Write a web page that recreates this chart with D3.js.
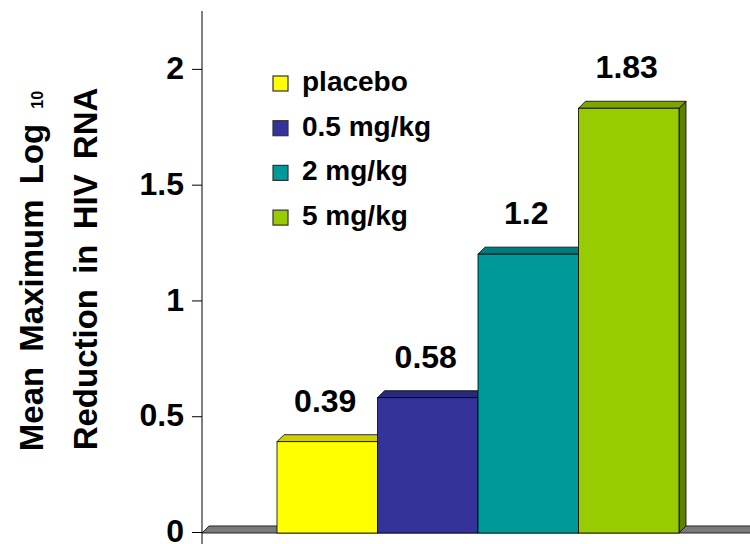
<!DOCTYPE html>
<html>
<head>
<meta charset="utf-8">
<script src="https://cdn.jsdelivr.net/npm/d3@7"></script>
<style>
  html, body { margin: 0; padding: 0; background: #fff; }
  svg { display: block; }
  text { font-family: "Liberation Sans", Arial, sans-serif; font-weight: bold; fill: #000; }
</style>
</head>
<body>
<svg id="chart" width="750" height="544"></svg>
<script>
// Dose groups and their mean maximum log10 reduction in HIV RNA
const series = ["placebo", "0.5 mg/kg", "2 mg/kg", "5 mg/kg"];
const values = [0.39, 0.58, 1.2, 1.83];
const colors = ["#FFFF00", "#333399", "#009999", "#99CC00"];
const yTicks = [0, 0.5, 1, 1.5, 2];
const yMax = 2.25;

const W = 750, H = 544;
const svg = d3.select("#chart");

const axisX = 202;       // value axis position
const floorY = 533;      // front edge of the floor
const depth = { dx: 7, dy: -7 };  // 3D extrusion

const y = d3.scaleLinear().domain([0, yMax]).range([532, 11]);
const x = d3.scaleBand().domain(series).range([277, 679]).paddingInner(0).paddingOuter(0);

// Floor slab
svg.append("path")
  .attr("d", `M${axisX},${floorY} L${W + 10},${floorY} L${W + 10 + depth.dx},${floorY + depth.dy} L${axisX + depth.dx},${floorY + depth.dy} Z`)
  .attr("fill", "#7a7a7a")
  .attr("stroke", "#222")
  .attr("stroke-width", 1);

// Bars with top and side faces
const bars = svg.append("g").selectAll("g")
  .data(series.map((s, i) => ({ s, v: values[i], c: colors[i] })))
  .join("g");

bars.each(function (d) {
  const g = d3.select(this);
  const x0 = x(d.s), x1 = x(d.s) + x.bandwidth();
  const yt = y(d.v), yb = floorY;
  const base = d3.color(d.c);
  // side face (only the last bar's stays visible; each next bar covers the previous one)
  g.append("path")
    .attr("d", `M${x1},${yb} L${x1 + depth.dx},${yb + depth.dy} L${x1 + depth.dx},${yt + depth.dy} L${x1},${yt} Z`)
    .attr("fill", base.darker(1.3))
    .attr("stroke", "#000").attr("stroke-width", 0.8);
  // top face
  g.append("path")
    .attr("d", `M${x0},${yt} L${x0 + depth.dx},${yt + depth.dy} L${x1 + depth.dx},${yt + depth.dy} L${x1},${yt} Z`)
    .attr("fill", base.darker(0.6))
    .attr("stroke", "#000").attr("stroke-width", 0.8);
  // front face
  g.append("rect")
    .attr("x", x0).attr("y", yt)
    .attr("width", x1 - x0).attr("height", yb - yt)
    .attr("fill", d.c)
    .attr("stroke", "#000").attr("stroke-width", 0.8);
});

// Value labels
svg.append("g").selectAll("text")
  .data(series.map((s, i) => ({ s, v: values[i] })))
  .join("text")
  .attr("x", d => x(d.s) + x.bandwidth() / 2 - 2)
  .attr("y", d => y(d.v) - 30)
  .attr("text-anchor", "middle")
  .style("font-size", "32px")
  .text(d => String(d.v));

// Value axis
const axis = d3.axisLeft(y)
  .tickValues(yTicks)
  .tickSize(10)
  .tickPadding(8)
  .tickFormat(d => String(d));

const ag = svg.append("g")
  .attr("transform", `translate(${axisX},0)`)
  .call(axis);
ag.select(".domain").remove();
ag.selectAll(".tick line").attr("stroke", "#000").attr("stroke-width", 1);
ag.selectAll(".tick text")
  .attr("dy", "0.3em")
  .style("font-size", "32px")
  .style("font-family", "'Liberation Sans', Arial, sans-serif")
  .style("font-weight", "bold")
  .attr("fill", "#000");

svg.append("line")
  .attr("x1", axisX).attr("x2", axisX)
  .attr("y1", y(yMax)).attr("y2", H)
  .attr("stroke", "#000").attr("stroke-width", 1);

// Axis title (two rotated lines)
const titleCY = 271;
const t1 = svg.append("text")
  .attr("transform", `translate(43,${titleCY}) rotate(-90)`)
  .attr("text-anchor", "middle")
  .style("font-size", "33px")
  .style("word-spacing", "6px");
t1.append("tspan").text("Mean Maximum Log ");
t1.append("tspan").style("font-size", "16px").text("10");

svg.append("text")
  .attr("transform", `translate(97,${titleCY - 2}) rotate(-90)`)
  .attr("text-anchor", "middle")
  .style("font-size", "33px")
  .style("word-spacing", "6px")
  .text("Reduction in HIV RNA");

// Legend
const legend = svg.append("g").selectAll("g")
  .data(series.map((s, i) => ({ s, c: colors[i] })))
  .join("g")
  .attr("transform", (d, i) => `translate(273,${91 + i * 44.7})`);
legend.append("rect")
  .attr("x", 0).attr("y", -15)
  .attr("width", 15).attr("height", 15)
  .attr("fill", d => d.c)
  .attr("stroke", "#333").attr("stroke-width", 1.2);
legend.append("text")
  .attr("x", 29).attr("y", 0)
  .style("font-size", "28px")
  .text(d => d.s);
</script>
</body>
</html>
